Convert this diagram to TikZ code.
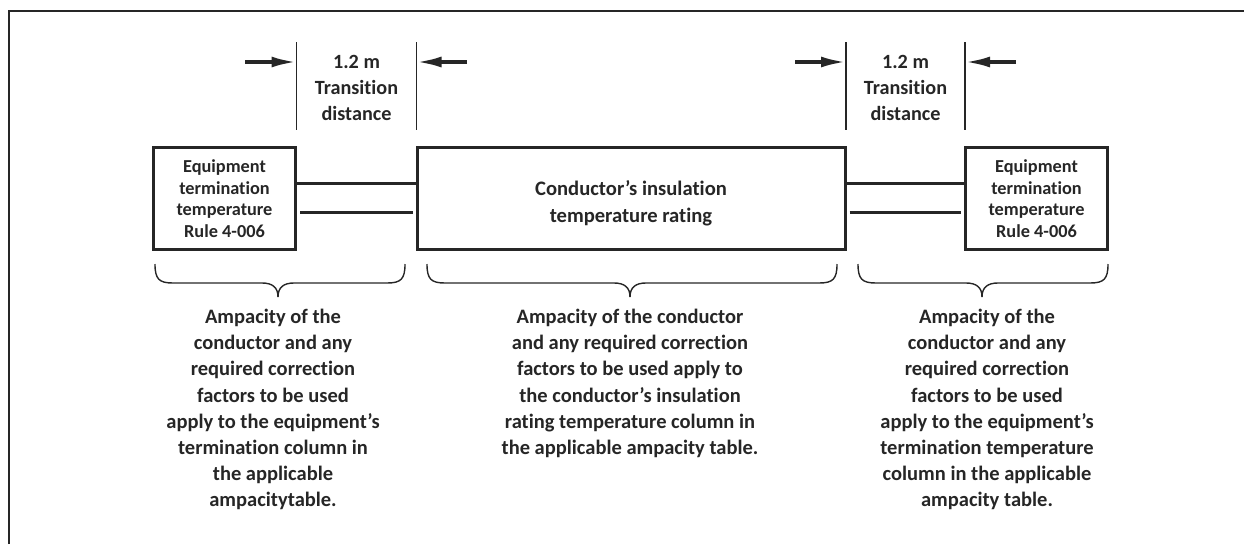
\documentclass[tikz,border=0pt]{standalone}
\usepackage{fontspec}
\setmainfont[Ligatures=NoCommon]{Carlito}
\usetikzlibrary{arrows.meta,calc}
\begin{document}
\begin{tikzpicture}[x=1pt,y=-1pt,
  frameline/.style={line width=2pt,draw=black!85},
  eqbox/.style={draw=black!85,line width=3pt,minimum width=142pt,minimum height=102pt,inner sep=0pt},
  wire/.style={draw=black!85,line width=3pt},
  dimline/.style={draw=black!85,line width=1.3pt},
  dimarrow/.style={draw=black!85,line width=3.5pt,-{Latex[length=25pt,width=11pt]}},
  bracepath/.style={draw=black!85,line width=1.4pt},
  boxtext/.style={align=center,font=\bfseries\fontsize{18.3}{21.5}\selectfont,text=black!85},
  dimtext/.style={align=center,font=\bfseries\fontsize{20.2}{26}\selectfont,text=black!85},
  notetext/.style={align=center,font=\bfseries\fontsize{20.5}{26.2}\selectfont,text=black!85,anchor=north,inner sep=0pt}
]
\useasboundingbox (0,0) rectangle (1244,544);
\draw[frameline] (9,544) -- (9,11) -- (1244,11);

% boxes
\node[eqbox] (lbox) at (224.5,198.5) {};
\node[eqbox,minimum width=428pt] (mbox) at (631,198.5) {};
\node[eqbox] (rbox) at (1036.5,198.5) {};
\node[boxtext] (ltext) at (lbox.center) {Equipment\\termination\\temperature\\Rule 4-006};
\node[boxtext] (rtext) at (rbox.center) {Equipment\\termination\\temperature\\Rule 4-006};
\node[boxtext,font=\bfseries\fontsize{20.6}{27}\selectfont] (mtext) at ($(mbox.center)+(0,5)$) {Conductor’s insulation\\temperature rating};

% wires
\draw[wire] ($(lbox.east)+(0,-15.5)$) -- ($(mbox.west)+(0,-15.5)$);
\draw[wire] ($(lbox.east)+(3,13.5)$) -- ($(mbox.west)+(-3,13.5)$);
\draw[wire] ($(mbox.east)+(0,-15.5)$) -- ($(rbox.west)+(0,-15.5)$);
\draw[wire] ($(mbox.east)+(3,13.5)$) -- ($(rbox.west)+(-3,13.5)$);

% dimension lines
\coordinate (d1t) at (296.5,42); \coordinate (d1b) at (296.5,130);
\coordinate (d2t) at (416.5,42); \coordinate (d2b) at (416.5,130);
\coordinate (d3t) at (846,42);   \coordinate (d3b) at (846,130);
\coordinate (d4t) at (965,42);   \coordinate (d4b) at (965,130);
\draw[dimline] (d1t) -- (d1b);
\draw[dimline] (d2t) -- (d2b);
\draw[dimline] (d3t) -- (d3b);
\draw[dimline] (d4t) -- (d4b);
\coordinate (a1) at (245,62); \coordinate (a1e) at (296.5,62);
\coordinate (a2) at (467,62); \coordinate (a2e) at (416.5,62);
\coordinate (a3) at (795,62); \coordinate (a3e) at (846,62);
\coordinate (a4) at (1016,62); \coordinate (a4e) at (965,62);
\draw[dimarrow] (a1) -- (a1e);
\draw[dimarrow] (a2) -- (a2e);
\draw[dimarrow] (a3) -- (a3e);
\draw[dimarrow] (a4) -- (a4e);
\node[dimtext] (dl1) at (356.5,88) {1.2 m\\Transition\\distance};
\node[dimtext] (dl2) at (905.5,88) {1.2 m\\Transition\\distance};

% braces
\foreach \xa/\xm/\xb in {155/278/405, 427/630/837, 858/982/1108}{
  \draw[bracepath] (\xa,264) .. controls (\xa,279) and (\xa+4,283) .. (\xa+18,283)
     -- (\xm-16,283) .. controls (\xm-6,283) and (\xm,287) .. (\xm,297);
  \draw[bracepath] (\xb,264) .. controls (\xb,279) and (\xb-4,283) .. (\xb-18,283)
     -- (\xm+16,283) .. controls (\xm+6,283) and (\xm,287) .. (\xm,297);
}

% notes
\node[notetext] (n1) at (273,309) {Ampacity of the\\conductor and any\\required correction\\factors to be used\\apply to the equipment’s\\termination column in\\the applicable\\ampacitytable.};
\node[notetext] (n2) at (630,309) {Ampacity of the conductor\\and any required correction\\factors to be used apply to\\the conductor’s insulation\\rating temperature column in\\the applicable ampacity table.};
\node[notetext] (n3) at (987,309) {Ampacity of the\\conductor and any\\required correction\\factors to be used\\apply to the equipment’s\\termination temperature\\column in the applicable\\ampacity table.};
\end{tikzpicture}
\end{document}
